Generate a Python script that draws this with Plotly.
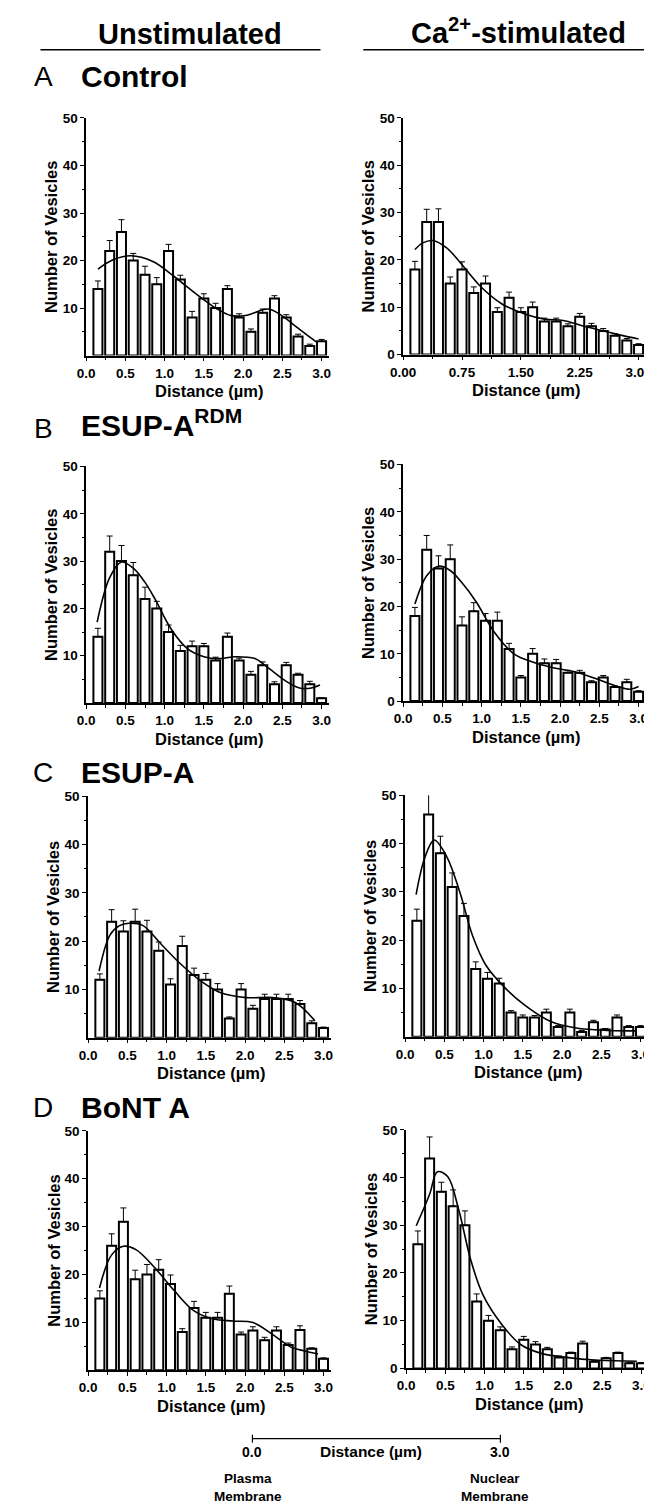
import plotly.graph_objects as go

W, H = 652, 1506

# ---------------- data ----------------
bins = [0.15, 0.30, 0.45, 0.60, 0.75, 0.90, 1.05, 1.20, 1.35, 1.50,
        1.65, 1.80, 1.95, 2.10, 2.25, 2.40, 2.55, 2.70, 2.85, 3.00]

# A  Control
ctrl_unstim = [14, 22, 26, 20, 17, 15, 22, 16, 8, 12, 10, 14, 8, 5, 9, 12, 8, 4, 2, 3]
ctrl_unstim_err = [1.7, 2.2, 2.6, 1.5, 1.8, 1.4, 1.4, 0.9, 1.3, 1.0, 1.0, 0.7, 0.8, 0.6, 0.8, 0.6, 0.6, 0.5, 0.4, 0.4]
ctrl_unstim_fit_x = [0.15, 0.35, 0.57, 0.85, 1.11, 1.30, 1.48, 1.65, 1.85, 2.05, 2.32, 2.52, 2.65, 2.80, 2.93]
ctrl_unstim_fit_y = [18.2, 20.2, 21.0, 19.8, 16.8, 14.3, 12.0, 10.0, 8.4, 8.5, 9.8, 8.1, 6.4, 4.5, 2.9]

ctrl_ca = [18, 28, 28, 15, 18, 13, 15, 9, 12, 9, 10, 7, 7, 6, 8, 6, 5, 4, 3, 2]
ctrl_ca_err = [1.7, 2.7, 2.8, 1.4, 1.6, 1.3, 1.6, 0.9, 1.2, 0.9, 1.1, 0.7, 0.7, 0.5, 0.7, 0.6, 0.5, 0.4, 0.4, 0.3]
ctrl_ca_fit_x = [0.15, 0.25, 0.38, 0.55, 0.70, 0.98, 1.26, 1.55, 1.80, 2.04, 2.28, 2.55, 2.80, 3.00]
ctrl_ca_fit_y = [22.2, 23.6, 24.1, 22.6, 20.0, 14.5, 10.7, 8.6, 7.5, 7.2, 6.1, 5.0, 4.0, 3.3]

# B  ESUP-A RDM
rdm_unstim = [14, 32, 30, 27, 22, 20, 15, 11, 12, 12, 9, 14, 9, 6, 8, 4, 8, 6, 4, 1]
rdm_unstim_err = [1.8, 3.3, 3.3, 2.7, 2.5, 1.5, 1.5, 1.2, 1.1, 0.6, 0.7, 0.8, 0.5, 0.7, 0.7, 0.5, 0.6, 0.3, 0.6, 0.1]
rdm_unstim_fit_x = [0.14, 0.30, 0.45, 0.60, 0.75, 0.88, 1.08, 1.29, 1.50, 1.69, 1.90, 2.15, 2.30, 2.55, 2.72, 2.87, 2.98]
rdm_unstim_fit_y = [17.1, 26.5, 29.8, 28.5, 25.5, 21.9, 15.7, 11.5, 9.8, 9.4, 9.8, 9.4, 7.7, 4.6, 3.2, 3.2, 3.8]

rdm_ca = [18, 32, 28, 30, 16, 19, 17, 17, 11, 5, 10, 8, 8, 6, 6, 4, 5, 3, 4, 2]
rdm_ca_err = [1.8, 3.0, 2.7, 3.0, 1.8, 1.8, 1.5, 1.8, 1.2, 0.4, 1.1, 0.9, 0.8, 0.5, 0.5, 0.3, 0.4, 0.2, 0.6, 0.2]
rdm_ca_fit_x = [0.15, 0.30, 0.45, 0.60, 0.75, 0.93, 1.16, 1.41, 1.66, 1.90, 2.23, 2.48, 2.73, 2.89, 3.00]
rdm_ca_fit_y = [20.5, 26.5, 28.5, 27.6, 25.0, 21.0, 14.6, 10.0, 8.2, 7.1, 6.0, 4.6, 3.1, 2.5, 3.1]

# C  ESUP-A
esup_unstim = [12, 24, 22, 24, 22, 18, 11, 19, 13, 12, 10, 4, 10, 6, 8, 8, 8, 7, 3, 2]
esup_unstim_err = [1.2, 2.5, 2.2, 2.6, 2.3, 1.8, 1.2, 2.0, 1.4, 1.3, 1.2, 0.3, 1.2, 0.7, 1.0, 1.0, 1.0, 0.7, 0.5, 0.2]
esup_unstim_fit_x = [0.14, 0.28, 0.40, 0.52, 0.69, 0.94, 1.19, 1.44, 1.69, 2.02, 2.35, 2.64, 2.89]
esup_unstim_fit_y = [13.8, 21.3, 23.2, 23.7, 23.3, 19.2, 15.1, 11.7, 9.3, 8.3, 8.3, 7.3, 3.5]

esup_ca = [24, 46, 38, 31, 25, 14, 12, 11, 5, 4, 4, 5, 2, 5, 1, 3, 1.5, 4, 2, 2]
esup_ca_err = [2.4, 4.2, 3.5, 2.9, 2.6, 1.5, 1.3, 1.1, 0.4, 0.5, 0.4, 0.7, 0.3, 0.7, 0.3, 0.4, 0.2, 0.5, 0.3, 0.3]
esup_ca_fit_x = [0.14, 0.25, 0.37, 0.53, 0.70, 0.86, 1.03, 1.28, 1.52, 1.85, 2.18, 2.60, 2.95]
esup_ca_fit_y = [29.4, 37.0, 40.7, 37.3, 29.8, 20.9, 14.8, 10.0, 6.6, 3.2, 1.8, 1.3, 1.2]

# D  BoNT A
bont_unstim = [15, 26, 31, 19, 20, 21, 18, 8, 13, 11, 11, 16, 7.5, 8.3, 6.3, 8.3, 5.3, 8.4, 4.5, 2.4]
bont_unstim_err = [1.6, 2.5, 2.9, 1.9, 2.1, 2.1, 1.9, 0.7, 1.4, 1.1, 1.1, 1.6, 0.5, 0.8, 0.6, 0.8, 0.4, 0.9, 0.2, 0.2]
bont_unstim_fit_x = [0.145, 0.30, 0.45, 0.61, 0.85, 1.10, 1.35, 1.60, 1.85, 2.10, 2.34, 2.59, 2.75, 2.93]
bont_unstim_fit_y = [17.2, 24.1, 25.9, 25.2, 21.4, 16.6, 12.4, 10.7, 10.3, 10.0, 7.6, 4.8, 4.1, 3.4]

bont_ca = [26, 44, 37, 34, 30, 14, 10, 8, 4, 6, 5, 4, 2.3, 3.2, 5.2, 1.4, 2.1, 3.2, 1.1, 1.1]
bont_ca_err = [2.8, 4.5, 2.0, 3.4, 3.0, 1.6, 1.1, 0.7, 0.5, 0.7, 0.6, 0.4, 0.3, 0.2, 0.5, 0.2, 0.2, 0.2, 0.1, 0.1]
bont_ca_fit_x = [0.13, 0.30, 0.40, 0.53, 0.67, 0.82, 0.98, 1.22, 1.46, 1.71, 2.04, 2.45, 2.94]
bont_ca_fit_y = [29.9, 36.5, 41.2, 40.2, 33.3, 23.0, 15.4, 9.2, 5.0, 3.2, 2.3, 1.7, 1.5]

y_ticks = [10, 20, 30, 40, 50]
y_ticks_zero = [0, 10, 20, 30, 40, 50]
x_ticks = [0.0, 0.5, 1.0, 1.5, 2.0, 2.5, 3.0]
x_ticktext = ["0.0", "0.5", "1.0", "1.5", "2.0", "2.5", "3.0"]
x_ticks_a = [0.0, 0.75, 1.5, 2.25, 3.0]
x_ticktext_a = ["0.00", "0.75", "1.50", "2.25", "3.00"]

# ---------------- layout helpers ----------------
def fx(p):
    return p / W

def fy(p):
    return 1 - p / H

FONT = "Liberation Sans"
PX_UNIT = 80.7

# (values, errors, fit x, fit y, axis-left px, axis-right px, top px, bottom px, xticks, xtext, yticks)
panels = [
    (ctrl_unstim, ctrl_unstim_err, ctrl_unstim_fit_x, ctrl_unstim_fit_y, 67, 317, 104, 344, x_ticks, x_ticktext, y_ticks),
    (ctrl_ca, ctrl_ca_err, ctrl_ca_fit_x, ctrl_ca_fit_y, 393, 643, 104, 343, x_ticks_a, x_ticktext_a, y_ticks_zero),
    (rdm_unstim, rdm_unstim_err, rdm_unstim_fit_x, rdm_unstim_fit_y, 67, 317, 456, 695, x_ticks, x_ticktext, y_ticks),
    (rdm_ca, rdm_ca_err, rdm_ca_fit_x, rdm_ca_fit_y, 393, 643, 454, 693, x_ticks, x_ticktext, y_ticks_zero),
    (esup_unstim, esup_unstim_err, esup_unstim_fit_x, esup_unstim_fit_y, 69, 319, 789, 1033, x_ticks, x_ticktext, y_ticks),
    (esup_ca, esup_ca_err, esup_ca_fit_x, esup_ca_fit_y, 395, 645, 788, 1032, x_ticks, x_ticktext, y_ticks),
    (bont_unstim, bont_unstim_err, bont_unstim_fit_x, bont_unstim_fit_y, 69, 319, 1127, 1369, x_ticks, x_ticktext, y_ticks),
    (bont_ca, bont_ca_err, bont_ca_fit_x, bont_ca_fit_y, 396, 646, 1126, 1367, x_ticks, x_ticktext, y_ticks_zero),
]

fig = go.Figure()
layout_axes = {}
annotations = []

tickfont = dict(family=FONT, size=13.5, color="black", weight="bold")
title_font = dict(family=FONT, size=16.5, color="black", weight="bold")

for i, (vals, errs, fxs, fys, xl, xr, top, bot, xt, xtt, yt) in enumerate(panels, start=1):
    xa = "x" if i == 1 else f"x{i}"
    ya = "y" if i == 1 else f"y{i}"
    xmax = (xr - xl) / PX_UNIT

    fig.add_trace(go.Bar(
        x=bins, y=vals, width=0.115, xaxis=xa, yaxis=ya,
        marker=dict(color="white", line=dict(color="black", width=2)),
        error_y=dict(type="data", symmetric=False, array=errs,
                     arrayminus=[0] * len(errs), color="black",
                     thickness=1, width=3),
        showlegend=False,
    ))
    fig.add_trace(go.Scatter(
        x=fxs, y=fys, mode="lines", xaxis=xa, yaxis=ya,
        line=dict(color="black", width=1.6, shape="spline", smoothing=1.0),
        showlegend=False,
    ))

    xkey = "xaxis" if i == 1 else f"xaxis{i}"
    ykey = "yaxis" if i == 1 else f"yaxis{i}"
    minor_x = [v + (xt[1] - xt[0]) / 2 for v in xt[:-1]]
    layout_axes[xkey] = dict(
        domain=[fx(xl), fx(xr)], range=[0, xmax], anchor=ya,
        showline=True, linecolor="black", linewidth=1.5,
        ticks="outside", ticklen=4, tickwidth=1.2, tickcolor="black",
        tickvals=xt, ticktext=xtt, tickfont=tickfont,
        minor=dict(ticks="outside", ticklen=3, tickwidth=1, tickcolor="black", tickvals=minor_x),
        showgrid=False, zeroline=False, fixedrange=True,
    )
    layout_axes[ykey] = dict(
        domain=[fy(bot), fy(top)], range=[0, 50], anchor=xa,
        showline=True, linecolor="black", linewidth=1.5,
        ticks="outside", ticklen=4, tickwidth=1.2, tickcolor="black",
        tickvals=yt, tickfont=tickfont,
        minor=dict(ticks="outside", ticklen=2, tickwidth=1, tickcolor="black",
                   tickvals=[5, 15, 25, 35, 45]),
        showgrid=False, zeroline=False, fixedrange=True,
    )

    annotations.append(dict(
        text="Number of Vesicles", textangle=-90, x=fx(xl - 36), y=fy((top + bot) / 2),
        xref="paper", yref="paper", showarrow=False, xanchor="center", yanchor="middle",
        font=title_font,
    ))
    annotations.append(dict(
        text="Distance (\u00b5m)", x=fx(xl + 3.1 * PX_UNIT / 2 + 2), y=fy(bot + 36),
        xref="paper", yref="paper", showarrow=False, xanchor="center", yanchor="middle",
        font=title_font,
    ))

# headers
head_font = dict(family=FONT, size=29, color="black", weight="bold")
annotations.append(dict(text="Unstimulated", x=fx(174), y=fy(19), xref="paper", yref="paper",
                        showarrow=False, xanchor="center", yanchor="middle", font=head_font))
annotations.append(dict(text="Ca<sup>2+</sup>-stimulated", x=fx(512), y=fy(16), xref="paper", yref="paper",
                        showarrow=False, xanchor="center", yanchor="middle", font=head_font))

# panel labels
letters = [("A", "Control", 62), ("B", "ESUP-A<sup>RDM</sup>", 418), ("C", "ESUP-A", 765), ("D", "BoNT A", 1103)]
for letter, name, yc in letters:
    annotations.append(dict(text=letter, x=fx(23), y=fy(yc), xref="paper", yref="paper",
                            showarrow=False, xanchor="center", yanchor="middle",
                            font=dict(family=FONT, size=28, color="black")))
    annotations.append(dict(text=name, x=fx(60), y=fy(yc - (6 if "sup" in name else 0)), xref="paper", yref="paper",
                            showarrow=False, xanchor="left", yanchor="middle",
                            font=dict(family=FONT, size=30, color="black", weight="bold")))

# bottom scale bar labels
small_bold = dict(family=FONT, size=14, color="black", weight="bold")
annotations += [
    dict(text="0.0", x=fx(238), y=fy(1451), xref="paper", yref="paper", showarrow=False,
         xanchor="center", yanchor="middle", font=small_bold),
    dict(text="3.0", x=fx(493), y=fy(1451), xref="paper", yref="paper", showarrow=False,
         xanchor="center", yanchor="middle", font=small_bold),
    dict(text="Distance (\u00b5m)", x=fx(360), y=fy(1451), xref="paper", yref="paper", showarrow=False,
         xanchor="center", yanchor="middle", font=dict(family=FONT, size=15.5, color="black", weight="bold")),
    dict(text="Plasma<br>Membrane", x=fx(233), y=fy(1487), xref="paper", yref="paper", showarrow=False,
         xanchor="center", yanchor="middle", align="center",
         font=dict(family=FONT, size=13.5, color="black", weight="bold")),
    dict(text="Nuclear<br>Membrane", x=fx(487), y=fy(1487), xref="paper", yref="paper", showarrow=False,
         xanchor="center", yanchor="middle", align="center",
         font=dict(family=FONT, size=13.5, color="black", weight="bold")),
]

shapes = [
    dict(type="line", xref="paper", yref="paper", x0=fx(20), x1=fx(308), y0=fy(35), y1=fy(35),
         line=dict(color="black", width=1.5)),
    dict(type="line", xref="paper", yref="paper", x0=fx(352), x1=fx(646), y0=fy(35), y1=fy(35),
         line=dict(color="black", width=1.5)),
    dict(type="line", xref="paper", yref="paper", x0=fx(238), x1=fx(493), y0=fy(1438), y1=fy(1438),
         line=dict(color="black", width=1.2)),
    dict(type="line", xref="paper", yref="paper", x0=fx(238), x1=fx(238), y0=fy(1434), y1=fy(1442),
         line=dict(color="black", width=1.2)),
    dict(type="line", xref="paper", yref="paper", x0=fx(493), x1=fx(493), y0=fy(1434), y1=fy(1442),
         line=dict(color="black", width=1.2)),
]

fig.update_layout(
    width=W, height=H, margin=dict(l=0, r=0, t=0, b=0),
    paper_bgcolor="white", plot_bgcolor="white",
    font=dict(family=FONT, color="black"),
    barmode="overlay", showlegend=False,
    annotations=annotations, shapes=shapes,
    **layout_axes,
)

fig.write_html("out.html")
